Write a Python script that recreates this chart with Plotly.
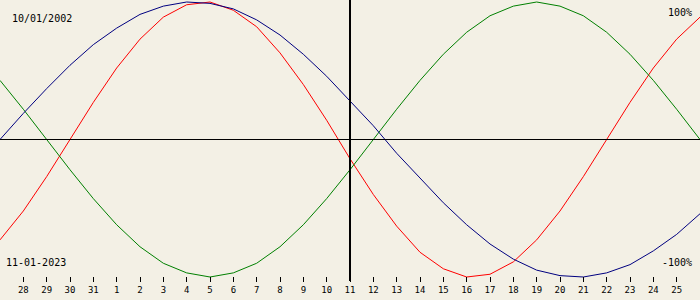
import plotly.graph_objects as go

# day index 0 = 27 Dec ... 30 = 26 Jan
days = list(range(31))
tick_days = list(range(1, 30))
tick_labels = ["28", "29", "30", "31"] + [str(i) for i in range(1, 26)]

physical = [-0.73, -0.52, -0.27, 0.00, 0.27, 0.52, 0.73, 0.89, 0.98, 1.00,
            0.94, 0.82, 0.63, 0.40, 0.14, -0.14, -0.40, -0.63, -0.82, -0.94,
            -1.00, -0.98, -0.89, -0.73, -0.52, -0.27, 0.00, 0.27, 0.52, 0.73, 0.89]
emotional = [0.43, 0.22, 0.00, -0.22, -0.43, -0.62, -0.78, -0.90, -0.97, -1.00,
             -0.97, -0.90, -0.78, -0.62, -0.43, -0.22, 0.00, 0.22, 0.43, 0.62,
             0.78, 0.90, 0.97, 1.00, 0.97, 0.90, 0.78, 0.62, 0.43, 0.22, 0.00]
intellectual = [0.00, 0.19, 0.37, 0.54, 0.69, 0.81, 0.91, 0.97, 1.00, 0.99,
                0.95, 0.87, 0.76, 0.62, 0.46, 0.28, 0.10, -0.10, -0.28, -0.46,
                -0.62, -0.76, -0.87, -0.95, -0.99, -1.00, -0.97, -0.91, -0.81, -0.69, -0.54]
today_index = 15

bg = "#F3F0E5"
font = "DejaVu Sans Mono"

fig = go.Figure()
fig.add_trace(go.Scatter(x=days, y=physical, mode="lines", line=dict(color="#FF0000", width=1), hoverinfo="skip"))
fig.add_trace(go.Scatter(x=days, y=emotional, mode="lines", line=dict(color="#008000", width=1), hoverinfo="skip"))
fig.add_trace(go.Scatter(x=days, y=intellectual, mode="lines", line=dict(color="#000080", width=1), hoverinfo="skip"))

ymax = 1 + 2 / 137.5
ymin = -1 - 23 / 137.5

fig.add_shape(type="line", xref="paper", yref="y", x0=0, x1=1, y0=0, y1=0,
              line=dict(color="black", width=1))
fig.add_shape(type="line", xref="x", yref="paper", x0=today_index, x1=today_index,
              y0=1 - 281 / 300, y1=1, line=dict(color="black", width=2))

fig.update_layout(
    width=700, height=300, margin=dict(l=0, r=0, t=0, b=0),
    paper_bgcolor=bg, plot_bgcolor=bg, showlegend=False,
    xaxis=dict(range=[0, 30], showgrid=False, zeroline=False, showline=False,
               tickvals=tick_days, ticktext=tick_labels, ticks="outside",
               ticklen=5, tickwidth=1, tickcolor="black",
               anchor="free", position=1 - 276 / 300,
               tickfont=dict(family=font, size=9, color="black")),
    yaxis=dict(range=[ymin, ymax], showgrid=False, zeroline=False,
               showticklabels=False, showline=False),
    font=dict(family=font, size=10, color="black"),
)

def note(text, x, y, xanchor):
    fig.add_annotation(text=text, xref="paper", yref="paper", x=x / 700, y=1 - y / 300,
                       xanchor=xanchor, yanchor="middle", showarrow=False,
                       font=dict(family=font, size=10, color="black"))

note("10/01/2002", 10, 18, "left")
note("100%", 694, 12, "right")
note("11-01-2023", 4, 262, "left")
note("-100%", 694, 262, "right")

fig.write_html("out.html")
